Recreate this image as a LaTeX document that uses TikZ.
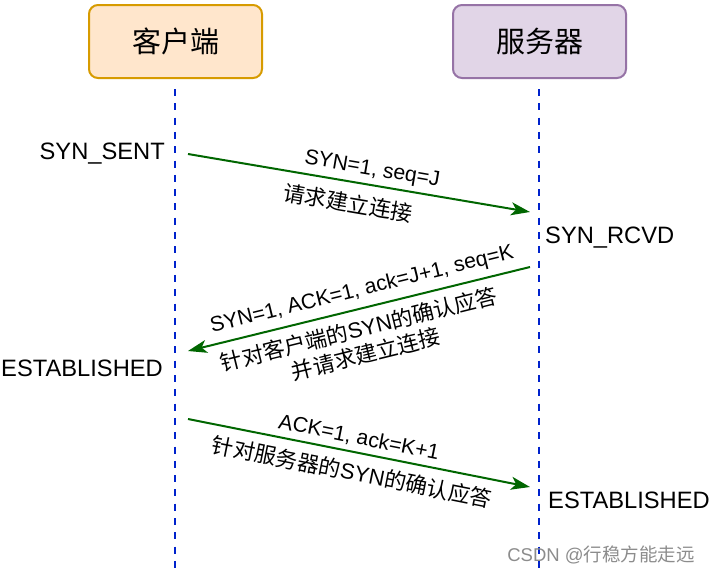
\documentclass[tikz,border=0pt]{standalone}
\usepackage{fontspec}
\setmainfont{Liberation Sans}
\newfontfamily\cjk{Noto Sans CJK SC}
\usetikzlibrary{arrows.meta}
\definecolor{cfill}{HTML}{FFE6CC}
\definecolor{cdraw}{HTML}{D79B00}
\definecolor{sfill}{HTML}{E1D5E7}
\definecolor{sdraw}{HTML}{9673A6}
\definecolor{lifeblue}{HTML}{0022CC}
\definecolor{msggreen}{HTML}{006600}
\tikzset{
  actor/.style={rounded corners=9pt, line width=2pt, minimum width=173pt, minimum height=73pt, inner sep=0pt, font=\cjk\fontsize{29}{34}\selectfont},
  lifeline/.style={lifeblue, line width=2.4pt, dash pattern=on 7pt off 7.3pt},
  msg/.style={msggreen, line width=2pt, -{Stealth[length=19pt,width=13pt,inset=5pt]}},
  statelbl/.style={inner sep=0pt, font=\fontsize{23.7}{28}\selectfont},
  msglbl/.style={inner sep=0pt, font=\fontsize{21.2}{25}\selectfont, align=center},
  cjklbl/.style={inner sep=0pt, font=\fontsize{21.8}{25}\selectfont, align=center},
}
\begin{document}
\begin{tikzpicture}[x=1pt,y=-1pt]
\useasboundingbox (0,0) rectangle (713,574);
\fill[white] (0,0) rectangle (713,574);
% actors
\node[actor, draw=cdraw, fill=cfill] (client) at (175.5,41.5) {客户端};
\node[actor, draw=sdraw, fill=sfill] (server) at (539.5,41.5) {服务器};
% lifelines
\coordinate (cTop) at (175,89);
\coordinate (cBot) at (175,574);
\coordinate (sTop) at (539,89);
\coordinate (sBot) at (539,574);
\draw[lifeline] (cTop) -- (cBot);
\draw[lifeline] (sTop) -- (sBot);
% states
\node[statelbl, anchor=east] (synsent) at (165,154) {SYN\_SENT};
\node[statelbl, anchor=west] (synrcvd) at (545,238) {SYN\_RCVD};
\node[statelbl, anchor=east] (estc) at (163,368) {ESTABLISHED};
\node[statelbl, anchor=west] (ests) at (548,500) {ESTABLISHED};
% message 1
\coordinate (m1s) at (188,154);
\coordinate (m1e) at (530,212);
\draw[msg] (m1s) -- (m1e);
\node[msglbl, rotate=-9.7] (l1a) at (372,170) {SYN=1, seq=J};
\node[cjklbl, rotate=-9.7] (l1b) at (348,203) {\cjk 请求建立连接};
% message 2
\coordinate (m2s) at (530,267);
\coordinate (m2e) at (188,351);
\draw[msg] (m2s) -- (m2e);
\node[msglbl, rotate=13.9] (l2a) at (362,290) {SYN=1, ACK=1, ack=J+1, seq=K};
\node[cjklbl, rotate=13.9] (l2b) at (359,329) {{\cjk 针对客户端的}SYN{\cjk 的确认应答}};
\node[cjklbl, rotate=13.9] (l2c) at (366,354) {\cjk 并请求建立连接};
% message 3
\coordinate (m3s) at (188,419);
\coordinate (m3e) at (530,487);
\draw[msg] (m3s) -- (m3e);
\node[msglbl, rotate=-11.3] (l3a) at (359,438) {ACK=1, ack=K+1};
\node[cjklbl, rotate=-11.3] (l3b) at (352,472) {{\cjk 针对服务器的}SYN{\cjk 的确认应答}};
% watermark
\node[inner sep=0pt, text=black!45, font=\fontsize{18.5}{22}\selectfont] (wm) at (601,555) {CSDN @{\cjk 行稳方能走远}};
\end{tikzpicture}
\end{document}
